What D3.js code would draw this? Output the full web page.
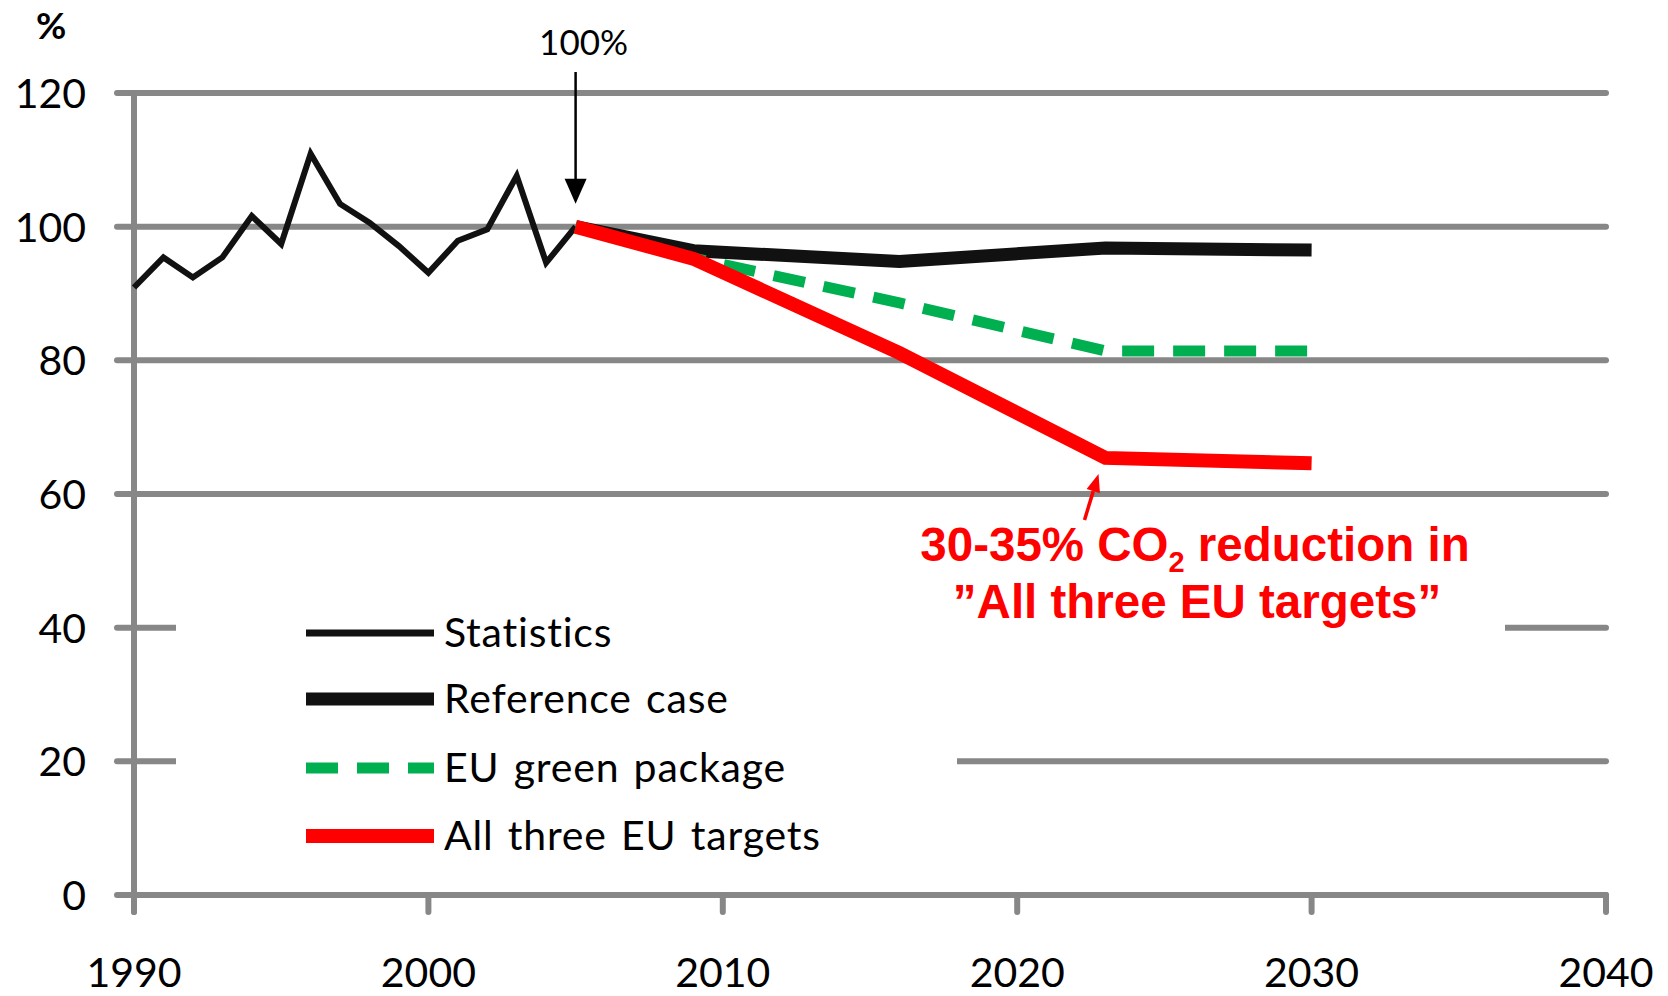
<!DOCTYPE html>
<html>
<head>
<meta charset="utf-8">
<script src="https://cdn.jsdelivr.net/npm/d3@7"></script>
<style>
html,body{margin:0;padding:0;background:#fff;}
svg{display:block;}
</style>
</head>
<body>
<svg id="chart" width="1668" height="996"></svg>
<script>
// ---- data ----
const statYears = [1990,1991,1992,1993,1994,1995,1996,1997,1998,1999,2000,2001,2002,2003,2004,2005];
const statistics = [90.9,95.4,92.4,95.4,101.6,97.4,110.9,103.4,100.6,97.1,93.1,97.9,99.6,107.6,94.6,100];
const projYears = [2005,2009,2016,2023,2030];
const referenceCase = [100,96.4,94.8,96.8,96.5];
const euGreenPackage = [100,95.3,88.6,81.4,81.4];
const allThreeTargets = [100,95.2,81.1,65.4,64.6];
const yTicks = [0,20,40,60,80,100,120];
const xTicks = [1990,2000,2010,2020,2030,2040];
const legendLabels = ["Statistics","Reference case","EU green package","All three EU targets"];
const annotationLines = ["30-35% CO", "2", " reduction in", "\u201DAll three EU targets\u201D"];

// ---- layout ----
const svg = d3.select("#chart");
const x = d3.scaleLinear().domain([1990,2040]).range([134,1606]);
const y = d3.scaleLinear().domain([0,120]).range([895,93]);
const grey = "#878787";
const labelFont = "Lato, 'Open Sans', sans-serif";

// gridlines
svg.append("g").selectAll("line").data(yTicks).join("line")
  .attr("x1", x(1990)-17).attr("x2", x(2040))
  .attr("y1", d=>y(d)).attr("y2", d=>y(d))
  .attr("stroke", grey).attr("stroke-width", 6).attr("stroke-linecap","round");

// y axis line
svg.append("line").attr("x1", x(1990)).attr("x2", x(1990))
  .attr("y1", y(120)).attr("y2", y(0)+17)
  .attr("stroke", grey).attr("stroke-width", 6).attr("stroke-linecap","round");

// x ticks
svg.append("g").selectAll("line").data(xTicks).join("line")
  .attr("x1", d=>x(d)).attr("x2", d=>x(d))
  .attr("y1", y(0)).attr("y2", y(0)+17)
  .attr("stroke", grey).attr("stroke-width", 6).attr("stroke-linecap","round");

// y tick labels
svg.append("g").selectAll("text").data(yTicks).join("text")
  .attr("x", 86).attr("y", d=>y(d)+15)
  .attr("text-anchor","end")
  .attr("font-family", labelFont).attr("font-size", 41)
  .attr("fill","#000").text(d=>d);

// x tick labels
svg.append("g").selectAll("text").data(xTicks).join("text")
  .attr("x", d=>x(d)).attr("y", 987)
  .attr("text-anchor","middle")
  .attr("font-family", labelFont).attr("font-size", 41)
  .attr("fill","#000").text(d=>d);

// unit label
svg.append("text").attr("x", 36).attr("y", 39)
  .attr("font-family", labelFont).attr("font-weight","bold").attr("font-size", 37)
  .text("%");

// white boxes (legend & annotation backgrounds)
svg.append("rect").attr("x", 176).attr("y", 565).attr("width", 957-176).attr("height", 310).attr("fill","#fff");
svg.append("rect").attr("x", 900).attr("y", 505).attr("width", 1505-900).attr("height", 140).attr("fill","#fff");

// lines
const line = d3.line().x(d=>x(d[0])).y(d=>y(d[1]));
const zip = (a,b)=>a.map((v,i)=>[v,b[i]]);

svg.append("path").datum(zip(statYears, statistics)).attr("d", line)
  .attr("fill","none").attr("stroke","#111").attr("stroke-width",6).attr("stroke-linejoin","miter");
svg.append("path").datum(zip(projYears, referenceCase)).attr("d", line)
  .attr("fill","none").attr("stroke","#111").attr("stroke-width",13).attr("stroke-linejoin","miter");
svg.append("path").datum(zip(projYears, euGreenPackage)).attr("d", line)
  .attr("fill","none").attr("stroke","#00B050").attr("stroke-width",11)
  .attr("stroke-dasharray","32,19").attr("stroke-linejoin","round");
svg.append("path").datum(zip(projYears, allThreeTargets)).attr("d", line)
  .attr("fill","none").attr("stroke","#FF0000").attr("stroke-width",14).attr("stroke-linejoin","miter");

// "100%" annotation with arrow
const ax = x(2005), atip = y(100) - 23;
svg.append("text").attr("x", ax+8).attr("y", 55).attr("text-anchor","middle")
  .attr("font-family", labelFont).attr("font-size", 35).text("100%");
svg.append("line").attr("x1", ax).attr("x2", ax).attr("y1", 72).attr("y2", atip-20)
  .attr("stroke","#000").attr("stroke-width",2.5);
svg.append("path").attr("d", `M${ax-11},${atip-25}L${ax+11},${atip-25}L${ax},${atip}Z`).attr("fill","#000");

// red annotation arrow
const tipX = x(2023)-7, tipY = y(65.4)+16;
const tailX = tipX-14, tailY = tipY+46;
const ang = Math.atan2(tipY-tailY, tipX-tailX);
const hl = 18, hw = 7;
const bx = tipX - hl*Math.cos(ang), by = tipY - hl*Math.sin(ang);
svg.append("line").attr("x1", tailX).attr("y1", tailY).attr("x2", bx).attr("y2", by)
  .attr("stroke","#FF0000").attr("stroke-width",3.5);
svg.append("path").attr("d",
  `M${tipX},${tipY}L${bx - hw*Math.sin(ang)},${by + hw*Math.cos(ang)}L${bx + hw*Math.sin(ang)},${by - hw*Math.cos(ang)}Z`)
  .attr("fill","#FF0000");

// annotation text
const ann = svg.append("g").attr("font-family","'Liberation Sans', Arial, sans-serif")
  .attr("font-weight","bold").attr("fill","#FF0000").attr("text-anchor","middle");
const t1 = ann.append("text").attr("x", 1195).attr("y", 561).attr("font-size", 47.5);
t1.append("tspan").text(annotationLines[0]);
t1.append("tspan").attr("font-size", 29).attr("dy", 11).text(annotationLines[1]);
t1.append("tspan").attr("dy", -11).text(annotationLines[2]);
ann.append("text").attr("x", 1197).attr("y", 618).attr("font-size", 47.5).text(annotationLines[3]);

// legend
const legendStyles = [
  {color:"#111", width:7, dash:null},
  {color:"#111", width:13, dash:null},
  {color:"#00B050", width:11, dash:"32,19"},
  {color:"#FF0000", width:14, dash:null}
];
const legendY = [633, 699, 768, 836];
const lg = svg.append("g");
legendLabels.forEach((lab,i)=>{
  const s = legendStyles[i];
  lg.append("line").attr("x1",306).attr("x2",434).attr("y1",legendY[i]).attr("y2",legendY[i])
    .attr("stroke",s.color).attr("stroke-width",s.width).attr("stroke-dasharray",s.dash);
  lg.append("text").attr("x",444).attr("y",legendY[i]+14)
    .attr("font-family",labelFont).attr("font-size",41).attr("letter-spacing",0.8)
    .attr("word-spacing",3).attr("fill","#000").text(lab);
});
</script>
</body>
</html>
